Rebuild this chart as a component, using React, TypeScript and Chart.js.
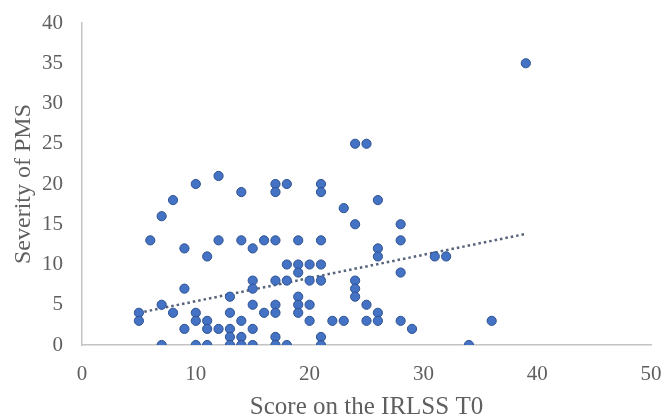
import React, { useEffect, useRef } from "react";
import { Chart, registerables } from "chart.js";

Chart.register(...registerables);

// Score on the IRLSS T0 (x) and Severity of PMS (y)
const scoreIRLSS: number[] = [
  5, 5, 6, 7, 7, 7, 8, 8, 9, 9, 9, 10, 10, 10, 10, 11, 11, 11, 11, 12, 12, 12,
  13, 13, 13, 13, 13, 14, 14, 14, 14, 14, 15, 15, 15, 15, 15, 15, 16, 16,
  17, 17, 17, 17, 17, 17, 17, 17, 18, 18, 18, 18, 19, 19, 19, 19, 19, 19,
  20, 20, 20, 20, 21, 21, 21, 21, 21, 21, 21, 22, 23, 23, 24, 24, 24, 24, 24,
  25, 25, 25, 26, 26, 26, 26, 26, 28, 28, 28, 28, 29, 31, 32, 34, 36, 39,
];
const severityPMS: number[] = [
  4, 3, 13, 16, 5, 0, 18, 4, 12, 7, 2, 20, 4, 3, 0, 11, 3, 2, 0, 21, 13, 2,
  6, 4, 2, 1, 0, 19, 13, 3, 1, 0, 12, 8, 7, 5, 2, 0, 13, 4,
  20, 19, 13, 8, 5, 4, 1, 0, 20, 10, 8, 0, 13, 10, 9, 6, 5, 4,
  10, 8, 5, 3, 20, 19, 13, 10, 8, 1, 0, 3, 17, 3, 25, 15, 8, 7, 6,
  25, 5, 3, 18, 12, 11, 4, 3, 15, 13, 9, 3, 2, 11, 11, 0, 3, 35,
];
// Linear trendline endpoints as drawn in the reference
const trendX: number[] = [5, 39];
const trendY: number[] = [4.0, 13.8];

const xTitle = "Score on the IRLSS T0";
const yTitle = "Severity of PMS";

export default function App() {
  const ref = useRef<HTMLCanvasElement | null>(null);
  useEffect(() => {
    if (!ref.current) return;
    const serif = "'Liberation Serif', 'Times New Roman', serif";
    const chart = new Chart(ref.current, {
      type: "scatter",
      data: {
        datasets: [
          {
            label: "Trend",
            type: "line",
            data: trendX.map((x, i) => ({ x, y: trendY[i] })),
            borderColor: "#56637a",
            borderWidth: 2.5,
            borderDash: [2.5, 3],
            borderCapStyle: "butt",
            pointRadius: 0,
            fill: false,
            order: 2,
          } as any,
          {
            label: "PMS",
            data: scoreIRLSS.map((x, i) => ({ x, y: severityPMS[i] })),
            backgroundColor: "#4472C4",
            borderColor: "#2F528F",
            borderWidth: 1,
            pointRadius: 4.6,
            order: 1,
          },
        ],
      },
      options: {
        animation: false,
        responsive: false,
        maintainAspectRatio: false,
        layout: { padding: { left: 0, right: 11, top: 23, bottom: 0 } },
        plugins: {
          legend: { display: false },
          tooltip: { enabled: false },
        },
        scales: {
          x: {
            type: "linear",
            min: 0,
            max: 50,
            grid: { display: false, drawTicks: false, tickLength: 0 },
            border: { display: true, color: "#c4c4c4", width: 1.5 },
            ticks: {
              stepSize: 10,
              padding: 17,
              color: "#5f5f5f",
              font: { family: serif, size: 21 },
            },
            title: {
              display: true,
              text: xTitle,
              color: "#5f5f5f",
              font: { family: serif, size: 25, lineHeight: 1.2 },
              padding: { top: 0, bottom: -8 },
            },
            afterFit: (s: any) => {
              s.height = 69;
              s.paddingLeft = 0;
              s.paddingRight = 0;
            },
          },
          y: {
            type: "linear",
            min: 0,
            max: 40,
            grid: { display: false, drawTicks: false, tickLength: 0 },
            border: { display: true, color: "#c4c4c4", width: 1.5 },
            ticks: {
              stepSize: 5,
              padding: 19,
              color: "#5f5f5f",
              font: { family: serif, size: 21 },
            },
            title: {
              display: true,
              text: yTitle,
              color: "#5f5f5f",
              font: { family: serif, size: 24, lineHeight: 1.2 },
              padding: { top: 9.5, bottom: 0 },
            },
            afterFit: (s: any) => {
              s.width = 82;
              s.paddingTop = 0;
              s.paddingBottom = 0;
            },
          },
        },
      },
    });
    return () => chart.destroy();
  }, []);
  return (
    <div
      style={{
        position: "fixed",
        left: 0,
        top: 0,
        width: 662,
        height: 414,
        background: "#ffffff",
      }}
    >
      <canvas ref={ref} width={662} height={414} style={{ width: 662, height: 414 }} />
    </div>
  );
}
